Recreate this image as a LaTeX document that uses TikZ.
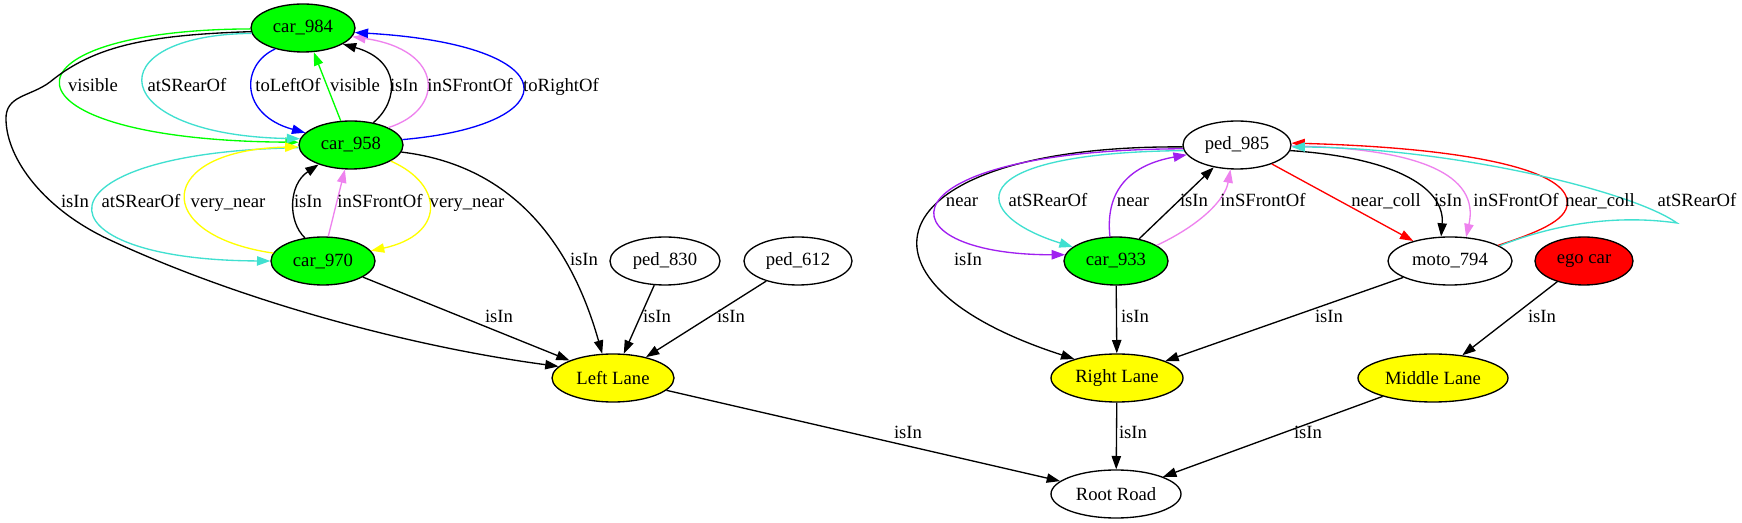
\documentclass[tikz,border=0pt]{standalone}
\usepackage{fontspec}
\setmainfont{Liberation Serif}
\usetikzlibrary{shapes.geometric,arrows.meta}
\definecolor{gvgreen}{HTML}{00FF00}
\definecolor{gvturq}{HTML}{40E0D0}
\definecolor{gvblue}{HTML}{0000FF}
\definecolor{gvviolet}{HTML}{EE82EE}
\definecolor{gvyellow}{HTML}{FFFF00}
\definecolor{gvpurple}{HTML}{A020F0}
\definecolor{gvred}{HTML}{FF0000}
\begin{document}
\begin{tikzpicture}[x=0.75pt,y=-0.75pt,
  gvnode/.style={ellipse,draw=black,line width=1pt,inner sep=0pt,minimum height=36pt,font=\fontsize{14}{16}\selectfont},
  lbl/.style={inner sep=0pt,font=\fontsize{14}{16}\selectfont,text height=9.5pt,text depth=2.5pt},
  gvedge/.style={line width=1pt,-{Triangle[length=10pt,width=7pt]}}]
\fill[white] (0,0) rectangle (1742,523);
\useasboundingbox (0,0) rectangle (1742,523);
% nodes
\node[gvnode,fill=gvgreen,minimum width=78pt] (c984) at (303,28) {car\_984};
\node[gvnode,fill=gvgreen,minimum width=78pt] (c958) at (351,145) {car\_958};
\node[gvnode,fill=gvgreen,minimum width=78pt] (c970) at (323,261) {car\_970};
\node[gvnode,minimum width=82.5pt] (p830) at (665,261) {ped\_830};
\node[gvnode,minimum width=81pt] (p612) at (798,261) {ped\_612};
\node[gvnode,fill=gvyellow,minimum width=91.5pt] (LL) at (613,378) {Left Lane};
\node[gvnode,minimum width=81pt] (p985) at (1237,145) {ped\_985};
\node[gvnode,fill=gvgreen,minimum width=78pt] (c933) at (1116,261) {car\_933};
\node[gvnode,minimum width=93pt] (m794) at (1450,261) {moto\_794};
\node[gvnode,fill=gvred,minimum width=73.5pt] (ego) at (1584,261) {ego car};
\node[gvnode,fill=gvyellow,minimum width=99pt] (RL) at (1117,378) {Right Lane};
\node[gvnode,fill=gvyellow,minimum width=112.5pt] (ML) at (1433,378) {Middle Lane};
\node[gvnode,minimum width=97.5pt] (RR) at (1116,494) {Root Road};
% left cluster edges
\draw[gvedge,gvgreen] (c984.181) .. controls (-10,30) and (-10,140) .. (c958.177);
\draw[gvedge,gvturq] (c984.186) .. controls (95,35) and (105,135) .. (c958.173);
\draw[gvedge,gvblue] (c984.217) .. controls (240,65) and (240,115) .. (c958.165);
\draw[gvedge,gvgreen] (c958.113) -- (c984.294);
\draw[gvedge,black] (c958.45) .. controls (400,100) and (400,60) .. (c984.338);
\draw[gvedge,gvviolet] (c958.25) .. controls (445,110) and (445,50) .. (c984.350);
\draw[gvedge,gvblue] (c958.6) .. controls (570,125) and (570,45) .. (c984.355);
\draw[gvedge,black] (c984.184) .. controls (150,35) and (95,45) .. (50,82) .. controls (30,97) and (5,95) .. (6,120) .. controls (7,160) and (45,210) .. (110,240) .. controls (250,305) and (420,348) .. (LL.168);
\draw[gvedge,gvturq] (c958.183) .. controls (30,152) and (30,260) .. (c970.180);
\draw[gvedge,gvyellow] (c970.171) .. controls (150,235) and (155,150) .. (c958.182);
\draw[gvedge,black] (c970.128) .. controls (288,222) and (288,185) .. (c958.211);
\draw[gvedge,gvviolet] (c970.78) -- (c958.256);
\draw[gvedge,gvyellow] (c958.338) .. controls (445,185) and (445,235) .. (c970.12);
\draw[gvedge,black] (c958.352) .. controls (510,165) and (570,240) .. (LL.114);
\draw[gvedge] (c970) -- (LL);
\draw[gvedge] (p830) -- (LL);
\draw[gvedge] (p612) -- (LL);
\draw[gvedge] (LL) -- (RR);
% right cluster edges
\draw[gvedge] (p985.182) .. controls (880,145) and (830,280) .. (RL.156);
\draw[gvedge,gvpurple] (p985.184) .. controls (877,150) and (877,255) .. (c933.173);
\draw[gvedge,gvturq] (p985.186) .. controls (955,153) and (970,215) .. (c933.162);
\draw[gvedge,gvpurple] (c933.104) .. controls (1105,190) and (1130,165) .. (p985.191);
\draw[gvedge] (c933) -- (p985);
\draw[gvedge,gvviolet] (c933.21) .. controls (1200,225) and (1225,200) .. (p985.255);
\draw[gvedge,gvred] (p985) -- (m794);
\draw[gvedge] (p985.354) .. controls (1400,158) and (1445,190) .. (m794.110);
\draw[gvedge,gvviolet] (p985.359) .. controls (1420,148) and (1480,175) .. (m794.56);
\draw[gvedge,gvred] (m794.18) .. controls (1545,230) and (1570,218) .. (1567,200) .. controls (1563,170) and (1470,148) .. (p985.2);
\draw[gvedge,gvturq] (m794.17) .. controls (1560,222) and (1620,215) .. (1677,223) .. controls (1630,190) and (1450,148) .. (p985.358);
\draw[gvedge] (c933) -- (RL);
\draw[gvedge] (m794) -- (RL);
\draw[gvedge] (ego) -- (ML);
\draw[gvedge] (RL) -- (RR);
\draw[gvedge] (ML) -- (RR);
% labels
\node[lbl] (l1) at (93,87) {visible};
\node[lbl] (l2) at (187,87) {atSRearOf};
\node[lbl] (l3) at (288,87) {toLeftOf};
\node[lbl] (l4) at (355,87) {visible};
\node[lbl] (l5) at (404,87) {isIn};
\node[lbl] (l6) at (470,87) {inSFrontOf};
\node[lbl] (l7) at (561,87) {toRightOf};
\node[lbl] (l8) at (75,203) {isIn};
\node[lbl] (l9) at (141,203) {atSRearOf};
\node[lbl] (l10) at (228,203) {very\_near};
\node[lbl] (l11) at (308,203) {isIn};
\node[lbl] (l12) at (380,203) {inSFrontOf};
\node[lbl] (l13) at (467,203) {very\_near};
\node[lbl] (l14) at (584,261) {isIn};
\node[lbl] (l15) at (499,318) {isIn};
\node[lbl] (l16) at (657,318) {isIn};
\node[lbl] (l17) at (731,318) {isIn};
\node[lbl] (l18) at (908,434) {isIn};
\node[lbl] (l19) at (962,202) {near};
\node[lbl] (l20) at (1048,202) {atSRearOf};
\node[lbl] (l21) at (1133,202) {near};
\node[lbl] (l22) at (1194,202) {isIn};
\node[lbl] (l23) at (1263,202) {inSFrontOf};
\node[lbl] (l24) at (1386,202) {near\_coll};
\node[lbl] (l25) at (1448,202) {isIn};
\node[lbl] (l26) at (1516,202) {inSFrontOf};
\node[lbl] (l27) at (1600,202) {near\_coll};
\node[lbl] (l28) at (1697,202) {atSRearOf};
\node[lbl] (l29) at (968,261) {isIn};
\node[lbl] (l30) at (1135,318) {isIn};
\node[lbl] (l31) at (1329,318) {isIn};
\node[lbl] (l32) at (1542,318) {isIn};
\node[lbl] (l33) at (1133,434) {isIn};
\node[lbl] (l34) at (1308,434) {isIn};
\end{tikzpicture}
\end{document}
